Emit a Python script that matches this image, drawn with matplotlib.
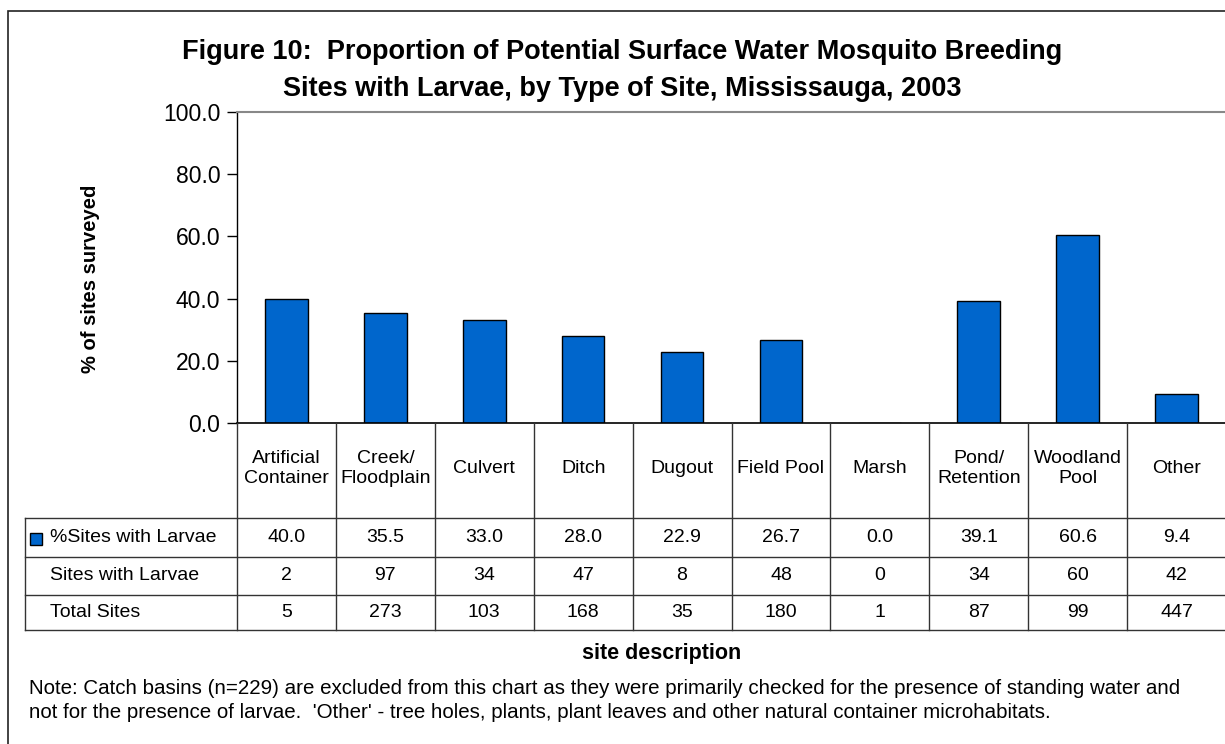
import matplotlib.pyplot as plt
from matplotlib.patches import Rectangle
from matplotlib.transforms import blended_transform_factory

plt.rcParams['font.family'] = ['Liberation Sans', 'DejaVu Sans']

# Survey results per site type
categories = ['Artificial\nContainer', 'Creek/\nFloodplain', 'Culvert', 'Ditch', 'Dugout',
              'Field Pool', 'Marsh', 'Pond/\nRetention', 'Woodland\nPool', 'Other']
pct_with_larvae = [40.0, 35.5, 33.0, 28.0, 22.9, 26.7, 0.0, 39.1, 60.6, 9.4]
sites_with_larvae = [2, 97, 34, 47, 8, 48, 0, 34, 60, 42]
total_sites = [5, 273, 103, 168, 35, 180, 1, 87, 99, 447]
row_labels = ['%Sites with Larvae', 'Sites with Larvae', 'Total Sites']
y_ticks = [0, 20, 40, 60, 80, 100]

W, H = 1225, 744
bar_color = '#0066CC'

fig = plt.figure(figsize=(W / 100, H / 100), dpi=100)


def fx(px):
    return px / W


def fy(py):
    return 1 - py / H


# outer chart border
fig.patches.append(Rectangle((fx(8), fy(760)), fx(1240 - 8), fy(11) - fy(760),
                             transform=fig.transFigure, fill=False,
                             edgecolor='#222222', linewidth=1.2))

# plot area
ax_left, ax_right, ax_top, ax_bottom = 237, 1226, 112, 423
ax = fig.add_axes([fx(ax_left), fy(ax_bottom), fx(ax_right - ax_left), fy(ax_top) - fy(ax_bottom)])
x = list(range(len(categories)))
ax.bar(x, pct_with_larvae, width=0.43, color=bar_color, edgecolor='black', linewidth=1)
ax.set_xlim(-0.5, len(categories) - 0.5)
ax.set_ylim(0, 100)
ax.set_yticks(y_ticks)
ax.set_yticklabels(['%.1f' % v for v in y_ticks], fontsize=16.5)
ax.tick_params(axis='y', direction='out', length=7, width=1, pad=5)
ax.set_xticks([])
ax.spines['right'].set_visible(False)
ax.spines['top'].set_color('#888888')
ax.spines['top'].set_linewidth(1.5)
ax.spines['left'].set_linewidth(1)
ax.spines['bottom'].set_linewidth(1.2)

fig.text(fx(90), fy(279), '% of sites surveyed', rotation=90, ha='center', va='center',
         fontsize=14.5, fontweight='bold')

# data table below the plot
tr = blended_transform_factory(ax.transData, fig.transFigure)
row_edges = [ax_bottom, 518, 557, 595, 630]
table_left = 25
line_kw = dict(color='#333333', linewidth=1, clip_on=False)

for i in range(len(categories) + 1):
    fig.add_artist(plt.Line2D([i - 0.5, i - 0.5], [fy(row_edges[0]), fy(row_edges[-1])],
                              transform=tr, **line_kw))
for r in row_edges[1:]:
    fig.add_artist(plt.Line2D([fx(table_left), 1.01], [fy(r), fy(r)],
                              transform=fig.transFigure, **line_kw))
fig.add_artist(plt.Line2D([fx(table_left), fx(table_left)], [fy(row_edges[1]), fy(row_edges[-1])],
                          transform=fig.transFigure, **line_kw))

header_y = (row_edges[0] + row_edges[1]) / 2
for i, cat in enumerate(categories):
    fig.text(i, fy(header_y - 2), cat, transform=tr, ha='center', va='center',
             fontsize=14, linespacing=1.25)

rows = [['%.1f' % v for v in pct_with_larvae],
        [str(v) for v in sites_with_larvae],
        [str(v) for v in total_sites]]
for r, (label, vals) in enumerate(zip(row_labels, rows)):
    cy = fy((row_edges[r + 1] + row_edges[r + 2]) / 2)
    fig.text(fx(50), cy, label, ha='left', va='center', fontsize=14)
    for i, v in enumerate(vals):
        fig.text(i, cy, v, transform=tr, ha='center', va='center', fontsize=14)

# legend key for the bar series
fig.patches.append(Rectangle((fx(30), fy(545)), fx(12), fy(533) - fy(545),
                             transform=fig.transFigure, facecolor=bar_color,
                             edgecolor='black', linewidth=1))

fig.text(fx(622), fy(52), 'Figure 10:  Proportion of Potential Surface Water Mosquito Breeding',
         ha='center', va='center', fontsize=19.5, fontweight='bold')
fig.text(fx(622), fy(89), 'Sites with Larvae, by Type of Site, Mississauga, 2003',
         ha='center', va='center', fontsize=19.5, fontweight='bold')

fig.text(fx(662), fy(653), 'site description', ha='center', va='center',
         fontsize=15.5, fontweight='bold')
fig.text(fx(29), fy(688),
         'Note: Catch basins (n=229) are excluded from this chart as they were primarily '
         'checked for the presence of standing water and',
         ha='left', va='center', fontsize=14.8)
fig.text(fx(29), fy(712),
         "not for the presence of larvae.  'Other' - tree holes, plants, plant leaves and "
         "other natural container microhabitats.",
         ha='left', va='center', fontsize=14.8)

fig.savefig('out.png', dpi=100)
